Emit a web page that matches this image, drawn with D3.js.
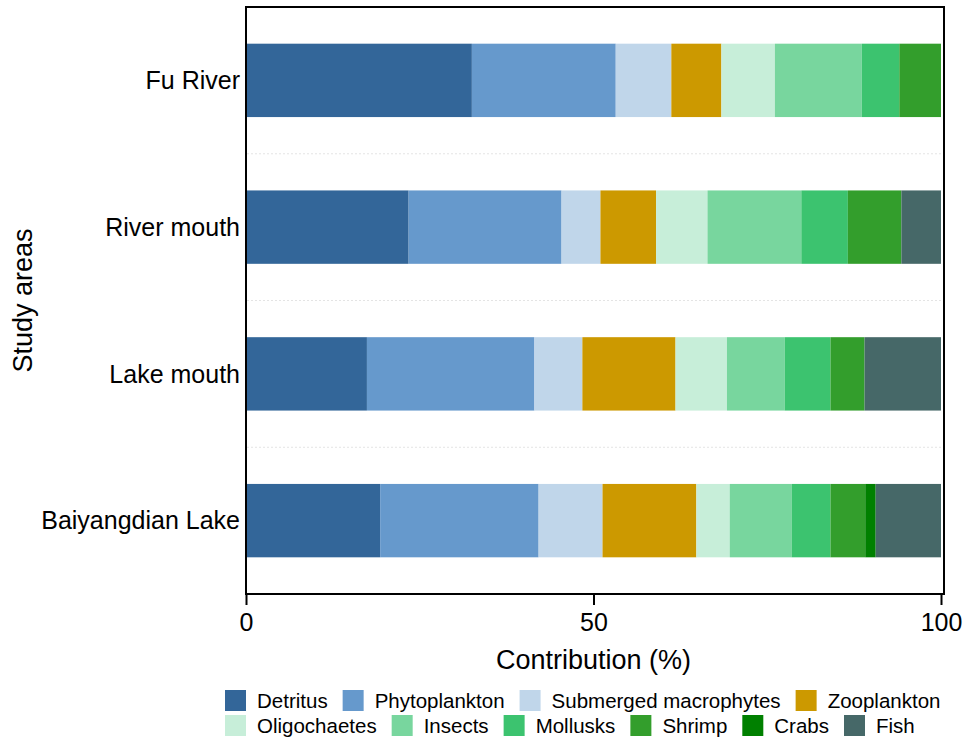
<!DOCTYPE html>
<html lang="en">
<head>
<meta charset="UTF-8"/>
<title>Diet contribution by study area</title>
<script src="https://d3js.org/d3.v7.min.js"></script>
<style>
  body { margin: 0; background: #fff; }
  text { font-family: "Liberation Sans", Arial, sans-serif; fill: #000; }
</style>
</head>
<body>
<script>
// study areas, top to bottom
var areas = ["Fu River", "River mouth", "Lake mouth", "Baiyangdian Lake"];

// food sources (stack order, left to right)
var sources = ["Detritus", "Phytoplankton", "Submerged macrophytes", "Zooplankton",
               "Oligochaetes", "Insects", "Mollusks", "Shrimp", "Crabs", "Fish"];

// contribution (%) per area, same order as areas
var detritus      = [32.5, 23.4, 17.4, 19.3];
var phytoplankton = [20.7, 22.0, 24.1, 22.8];
var submerged     = [ 8.0,  5.6,  6.9,  9.2];
var zooplankton   = [ 7.2,  8.0, 13.4, 13.5];
var oligochaetes  = [ 7.7,  7.4,  7.4,  4.8];
var insects       = [12.5, 13.5,  8.3,  8.9];
var mollusks      = [ 5.4,  6.7,  6.6,  5.6];
var shrimp        = [ 6.0,  7.7,  4.9,  5.0];
var crabs         = [ 0.0,  0.0,  0.0,  1.5];
var fish          = [ 0.0,  5.7, 11.0,  9.4];

var xTicks = [0, 50, 100];

var colors = ["#336699", "#6699cc", "#c0d6ea", "#cc9900", "#c7eed9",
              "#78d69e", "#3cc36f", "#339e2c", "#008000", "#466868"];

var seriesValues = [detritus, phytoplankton, submerged, zooplankton, oligochaetes,
                    insects, mollusks, shrimp, crabs, fish];

// build rows for d3.stack
var table = areas.map(function(a, i) {
    var row = { area: a };
    sources.forEach(function(s, j) { row[s] = seriesValues[j][i]; });
    return row;
});

var w = 966, h = 740;
var pLeft = 246, pRight = 941, pTop = 7, pBottom = 594, frameRight = 944;

var svg = d3.select("body").append("svg")
    .attr("width", w)
    .attr("height", h);

var x = d3.scaleLinear().domain([0, 100]).range([pLeft, pRight]);
var y = d3.scaleBand().domain(areas).range([pTop, pBottom])
    .paddingInner(0.5).paddingOuter(0.25);

var series = d3.stack().keys(sources)(table);

// faint dotted separators between bars
var gaps = areas.slice(0, -1).map(function(a) {
    return y(a) + y.bandwidth() + (y.step() - y.bandwidth()) / 2;
});
svg.selectAll(".grid")
    .data(gaps)
    .enter().append("line")
    .attr("class", "grid")
    .attr("x1", pLeft + 1).attr("x2", frameRight - 1)
    .attr("y1", function(d) { return d; })
    .attr("y2", function(d) { return d; })
    .attr("stroke", "#e4e4e4")
    .attr("stroke-width", 1)
    .attr("stroke-dasharray", "2,2");

var groups = svg.selectAll("g.layer")
    .data(series)
    .enter().append("g")
    .attr("class", "layer")
    .style("fill", function(d, i) { return colors[i]; });

groups.selectAll("rect")
    .data(function(d) { return d; })
    .enter().append("rect")
    .attr("x", function(d) { return x(d[0]); })
    .attr("y", function(d) { return y(d.data.area); })
    .attr("width", function(d) { return x(d[1]) - x(d[0]); })
    .attr("height", y.bandwidth());

// frame
svg.append("rect")
    .attr("x", pLeft).attr("y", pTop)
    .attr("width", frameRight - pLeft).attr("height", pBottom - pTop)
    .attr("fill", "none")
    .attr("stroke", "#000")
    .attr("stroke-width", 2);

// x axis
var xAxis = svg.append("g")
    .attr("transform", "translate(0," + pBottom + ")")
    .call(d3.axisBottom(x).tickValues(xTicks).tickSize(11).tickPadding(8));
xAxis.select(".domain").remove();
xAxis.selectAll(".tick line").attr("stroke", "#000").attr("stroke-width", 2);
xAxis.selectAll(".tick text")
    .style("font-size", "25px")
    .style("font-family", "Liberation Sans, Arial, sans-serif");

// y labels
svg.selectAll(".ylab")
    .data(areas)
    .enter().append("text")
    .attr("class", "ylab")
    .attr("x", 240)
    .attr("y", function(d) { return y(d) + y.bandwidth() / 2; })
    .attr("dy", "0.35em")
    .attr("text-anchor", "end")
    .style("font-size", "25px")
    .text(function(d) { return d; });

// axis titles
svg.append("text")
    .attr("x", (pLeft + pRight) / 2)
    .attr("y", 669)
    .attr("text-anchor", "middle")
    .style("font-size", "27px")
    .text("Contribution (%)");

svg.append("text")
    .attr("transform", "translate(32," + ((pTop + pBottom) / 2) + ") rotate(-90)")
    .attr("text-anchor", "middle")
    .style("font-size", "27px")
    .text("Study areas");

// legend, two rows
var rows = [sources.slice(0, 4), sources.slice(4)];
rows.forEach(function(items, r) {
    var cx = 225;
    var ly = 690 + r * 25;
    items.forEach(function(name) {
        var idx = sources.indexOf(name);
        svg.append("rect")
            .attr("x", cx).attr("y", ly)
            .attr("width", 21).attr("height", 21)
            .attr("fill", colors[idx]);
        var t = svg.append("text")
            .attr("x", cx + 32)
            .attr("y", ly + 11)
            .attr("dy", "0.35em")
            .style("font-size", "20.5px")
            .text(name);
        cx += 32 + t.node().getComputedTextLength() + 15;
    });
});
</script>
</body>
</html>
